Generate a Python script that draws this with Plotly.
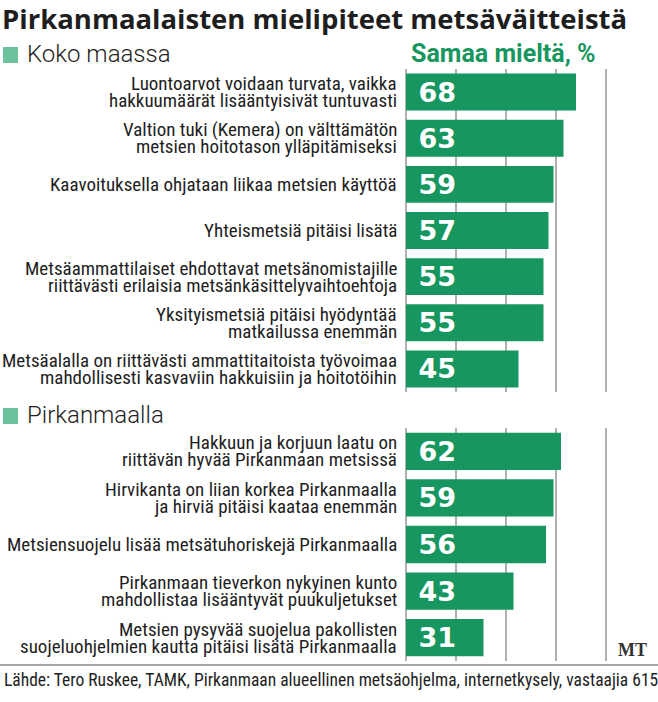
import plotly.graph_objects as go

W, H = 658, 702

koko_labels = [
    "Luontoarvot voidaan turvata, vaikka<br>hakkuumäärät lisääntyisivät tuntuvasti",
    "Valtion tuki (Kemera) on välttämätön<br>metsien hoitotason ylläpitämiseksi",
    "Kaavoituksella ohjataan liikaa metsien käyttöä",
    "Yhteismetsiä pitäisi lisätä",
    "Metsäammattilaiset ehdottavat metsänomistajille<br>riittävästi erilaisia metsänkäsittelyvaihtoehtoja",
    "Yksityismetsiä pitäisi hyödyntää<br>matkailussa enemmän",
    "Metsäalalla on riittävästi ammattitaitoista työvoimaa<br>mahdollisesti kasvaviin hakkuisiin ja hoitotöihin",
]
koko_values = [68, 63, 59, 57, 55, 55, 45]

pirk_labels = [
    "Hakkuun ja korjuun laatu on<br>riittävän hyvää Pirkanmaan metsissä",
    "Hirvikanta on liian korkea Pirkanmaalla<br>ja hirviä pitäisi kaataa enemmän",
    "Metsiensuojelu lisää metsätuhoriskejä Pirkanmaalla",
    "Pirkanmaan tieverkon nykyinen kunto<br>mahdollistaa lisääntyvät puukuljetukset",
    "Metsien pysyvää suojelua pakollisten<br>suojeluohjelmien kautta pitäisi lisätä Pirkanmaalla",
]
pirk_values = [62, 59, 56, 43, 31]

GREEN = "#17975f"
LIGHT_GREEN = "#6cc39b"
GRID = "#b0b0b0"
TEXT = "#1e1e1e"
NARROW = "Roboto Condensed, DejaVu Sans Condensed, sans-serif"
LEADING = 17


def px(x):
    return x / W


def py(y):
    return 1 - y / H


fig = go.Figure()

for labels, values, ax in ((koko_labels, koko_values, ""), (pirk_labels, pirk_values, "2")):
    fig.add_trace(
        go.Bar(
            x=values,
            y=labels,
            orientation="h",
            marker=dict(color=GREEN, line=dict(width=0)),
            texttemplate="\u00a0%{x}",
            textposition="inside",
            insidetextanchor="start",
            constraintext="none",
            textangle=0,
            textfont=dict(family="DejaVu Sans, sans-serif", size=27, color="white", weight="bold"),
            xaxis="x" + ax,
            yaxis="y" + ax,
            hoverinfo="skip",
            showlegend=False,
        )
    )
    # statement labels, one annotation per line to keep the tight leading
    for lab in labels:
        lines = lab.split("<br>")
        n = len(lines)
        for i, line in enumerate(lines):
            fig.add_annotation(
                x=0, y=lab, xref="x" + ax, yref="y" + ax,
                text=line, showarrow=False,
                xanchor="right", yanchor="middle",
                xshift=-7, yshift=(n - 1) / 2 * LEADING - i * LEADING,
                font=dict(family=NARROW, size=19, color=TEXT),
            )

xaxis_common = dict(
    range=[0, 100],
    dtick=20,
    showgrid=True,
    gridcolor=GRID,
    gridwidth=1.5,
    zeroline=True,
    zerolinecolor=GRID,
    zerolinewidth=1.5,
    showticklabels=False,
    showline=False,
    fixedrange=True,
)
yaxis_common = dict(
    autorange="reversed",
    showticklabels=False,
    showgrid=False,
    zeroline=False,
    fixedrange=True,
)

fig.update_layout(
    width=W,
    height=H,
    margin=dict(l=0, r=0, t=0, b=0),
    paper_bgcolor="white",
    plot_bgcolor="white",
    bargap=0.2,
    xaxis=dict(domain=[px(406), px(656)], anchor="y", **xaxis_common),
    xaxis2=dict(domain=[px(406), px(656)], anchor="y2", **xaxis_common),
    yaxis=dict(domain=[py(392), py(69)], anchor="x", **yaxis_common),
    yaxis2=dict(domain=[py(661), py(428)], anchor="x2", **yaxis_common),
)

# title, section headings, source
fig.add_annotation(
    x=px(0), y=py(18), xref="paper", yref="paper", xanchor="left", yanchor="middle",
    text="Pirkanmaalaisten mielipiteet metsäväitteistä", showarrow=False,
    font=dict(family="Open Sans, sans-serif", size=27.5, color=TEXT, weight=700),
)
for txt, yc in (("Koko maassa", 55), ("Pirkanmaalla", 416)):
    fig.add_shape(
        type="rect", xref="paper", yref="paper",
        x0=px(3), x1=px(18), y0=py(yc - 8), y1=py(yc + 8),
        fillcolor=LIGHT_GREEN, line=dict(width=0),
    )
    fig.add_annotation(
        x=px(25), y=py(yc - 1), xref="paper", yref="paper", xanchor="left", yanchor="middle",
        text=txt, showarrow=False,
        font=dict(family="Roboto, sans-serif", size=24, color=TEXT, weight=300),
    )
fig.add_annotation(
    x=px(597), y=py(54), xref="paper", yref="paper", xanchor="right", yanchor="middle",
    text="Samaa mieltä, %", showarrow=False,
    font=dict(family="Roboto, sans-serif", size=25, color=GREEN, weight="bold"),
)
fig.add_annotation(
    x=px(649), y=py(650), xref="paper", yref="paper", xanchor="right", yanchor="middle",
    text="MT", showarrow=False,
    font=dict(family="Liberation Serif, serif", size=18, color="#333333", weight="bold"),
)
fig.add_shape(
    type="line", xref="paper", yref="paper",
    x0=0, x1=1, y0=py(665), y1=py(665),
    line=dict(color="#8a8a8a", width=1.5),
)
fig.add_annotation(
    x=px(2), y=py(680), xref="paper", yref="paper", xanchor="left", yanchor="middle",
    text="Lähde: Tero Ruskee, TAMK, Pirkanmaan alueellinen metsäohjelma, internetkysely, vastaajia 615",
    showarrow=False,
    font=dict(family=NARROW, size=17.5, color=TEXT),
)

fig.write_html(
    "out.html",
    config={"displayModeBar": False},
    post_script="document.body.style.margin='0';",
)
